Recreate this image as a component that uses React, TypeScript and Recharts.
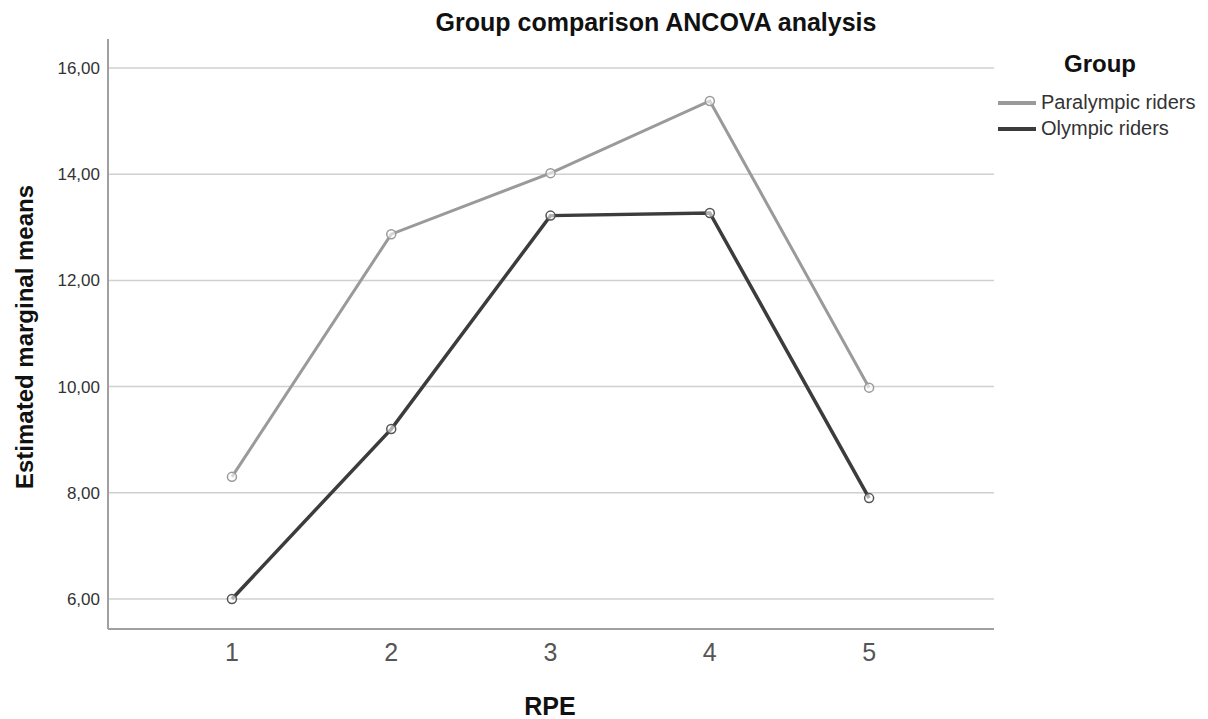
import { Line, LineChart, ReferenceLine, XAxis, YAxis } from "recharts";

const rpeLevels = [1, 2, 3, 4, 5];
const paralympicMeans = [8.3, 12.87, 14.02, 15.38, 9.98];
const olympicMeans = [6.0, 9.2, 13.22, 13.27, 7.9];
const yTicks = [6, 8, 10, 12, 14, 16];

const data = rpeLevels.map((rpe, i) => ({
  rpe,
  paralympic: paralympicMeans[i],
  olympic: olympicMeans[i],
}));

const FONT = '"Liberation Sans", Arial, sans-serif';
const LIGHT = "#9a9a9a";
const DARK = "#3c3c3c";

function fmt(v: number) {
  return v.toFixed(2).replace(".", ",");
}

export default function App() {
  return (
    <div style={{ position: "absolute", left: 0, top: 0, width: 1208, height: 719, background: "#fff", fontFamily: FONT, overflow: "hidden" }}>
      <LineChart width={1208} height={719} data={data} margin={{ top: 39, right: 214, bottom: 0, left: 0 }}>
        {yTicks.map((t) => (
          <ReferenceLine key={t} y={t} stroke="#d0d0d0" strokeWidth={1.5} />
        ))}
        <XAxis
          dataKey="rpe"
          type="number"
          domain={[0.222, 5.784]}
          ticks={rpeLevels}
          height={90}
          tickSize={0}
          tickMargin={14}
          stroke="#a0a0a0"
          strokeWidth={2}
          tick={{ fill: "#555", fontSize: 25, fontFamily: FONT }}
        />
        <YAxis
          type="number"
          domain={[5.435, 16.546]}
          ticks={yTicks}
          allowDataOverflow
          width={108}
          tickSize={0}
          tickMargin={8}
          tickFormatter={fmt}
          stroke="#a0a0a0"
          strokeWidth={2}
          tick={{ fill: "#333", fontSize: 17, fontFamily: FONT }}
        />
        <Line
          dataKey="paralympic"
          stroke={LIGHT}
          strokeWidth={3}
          dot={{ r: 4.5, stroke: LIGHT, strokeWidth: 1.5, fill: "#fff", fillOpacity: 0.6 }}
          isAnimationActive={false}
        />
        <Line
          dataKey="olympic"
          stroke={DARK}
          strokeWidth={3.5}
          dot={{ r: 4.5, stroke: "#555", strokeWidth: 1.5, fill: "#fff", fillOpacity: 0.6 }}
          isAnimationActive={false}
        />
      </LineChart>

      <div style={{ position: "absolute", left: 356, width: 600, top: 8, textAlign: "center", fontSize: 25, fontWeight: "bold", color: "#111" }}>
        Group comparison ANCOVA analysis
      </div>
      <div
        style={{
          position: "absolute",
          left: 25,
          top: 337,
          transform: "translate(-50%, -50%) rotate(-90deg)",
          whiteSpace: "nowrap",
          fontSize: 24,
          fontWeight: "bold",
          color: "#111",
        }}
      >
        Estimated marginal means
      </div>
      <div style={{ position: "absolute", left: 450, width: 200, top: 692, textAlign: "center", fontSize: 25, fontWeight: "bold", color: "#111" }}>
        RPE
      </div>

      <div style={{ position: "absolute", left: 1040, width: 120, top: 50, textAlign: "center", fontSize: 24, fontWeight: "bold", color: "#111" }}>
        Group
      </div>
      {[
        { label: "Paralympic riders", color: LIGHT, top: 91 },
        { label: "Olympic riders", color: DARK, top: 117 },
      ].map((item) => (
        <div key={item.label} style={{ position: "absolute", left: 998, top: item.top, display: "flex", alignItems: "center" }}>
          <div style={{ width: 38, height: 4, background: item.color, marginRight: 5 }} />
          <span style={{ fontSize: 20, color: "#333", lineHeight: "23px" }}>{item.label}</span>
        </div>
      ))}
    </div>
  );
}
